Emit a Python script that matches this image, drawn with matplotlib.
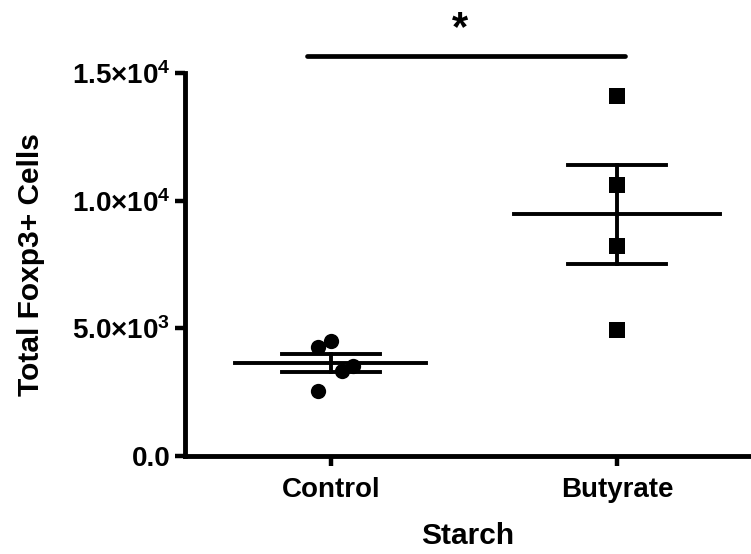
import numpy as np
import matplotlib
matplotlib.use("Agg")
import matplotlib.pyplot as plt

# Data
groups = ["Control", "Butyrate"]
control = [4270, 4505, 3330, 3525, 2546]
butyrate = [14100, 10610, 8220, 4930]
control_jitter = [-0.045, 0.0, 0.038, 0.077, -0.045]
butyrate_jitter = [0.0, 0.0, 0.0, 0.0]
ytick_vals = [0, 5000, 10000, 15000]
ytick_labels = ["0.0", "5.0×10$^{3}$", "1.0×10$^{4}$", "1.5×10$^{4}$"]

plt.rcParams['font.family'] = ['Liberation Sans', 'DejaVu Sans']
plt.rcParams['font.weight'] = 'bold'
plt.rcParams['mathtext.fontset'] = 'custom'
plt.rcParams['mathtext.rm'] = 'Liberation Sans:bold'
plt.rcParams['mathtext.bf'] = 'Liberation Sans:bold'
plt.rcParams['mathtext.it'] = 'Liberation Sans:bold'
plt.rcParams['mathtext.default'] = 'bf'

fig = plt.figure(figsize=(7.51, 5.54), dpi=100)
ax = fig.add_axes([185 / 751, 98 / 554, 566 / 751, 383 / 554])

series = [control, butyrate]
jitters = [control_jitter, butyrate_jitter]
markers = ["o", "s"]
mean_half = [0.334, 0.36]
sem_half = 0.171

for i, vals in enumerate(series):
    vals = np.array(vals, dtype=float)
    xs = i + np.array(jitters[i])
    ax.plot(xs, vals, linestyle="none", marker=markers[i], color="black",
            markersize=11, markeredgewidth=0, zorder=3)
    m = vals.mean()
    sem = vals.std(ddof=1) / np.sqrt(len(vals))
    ax.plot([i - mean_half[i], i + mean_half[i]], [m, m], color="black", lw=2.8, zorder=4)
    ax.plot([i - sem_half, i + sem_half], [m + sem, m + sem], color="black", lw=2.8, zorder=4)
    ax.plot([i - sem_half, i + sem_half], [m - sem, m - sem], color="black", lw=2.8, zorder=4)
    ax.plot([i, i], [m - sem, m + sem], color="black", lw=2.8, zorder=4)

ax.set_xlim(-0.509, 1.468)
ax.set_ylim(0, 15000)
ax.set_xticks(range(len(groups)))
ax.set_xticklabels(groups, fontsize=20, fontweight="bold")
ax.set_yticks(ytick_vals)
ax.set_yticklabels(ytick_labels, fontsize=20, fontweight="bold")

for side in ["top", "right"]:
    ax.spines[side].set_visible(False)
for side in ["left", "bottom"]:
    ax.spines[side].set_linewidth(3.5)
ax.tick_params(axis="both", width=3.2, length=7, color="black")
ax.tick_params(axis="x", pad=8)
ax.tick_params(axis="y", pad=3.5)

ax.set_xlabel("Starch", fontsize=21.5, fontweight="bold", labelpad=14)
ax.set_ylabel("Total Foxp3+ Cells", fontsize=21.5, fontweight="bold", labelpad=19)

# significance bar
ax.plot([-0.083, 1.028], [15667, 15667], color="black", lw=3.4,
        solid_capstyle="round", clip_on=False)
ax.text(0.453, 16300, "*", fontsize=30, fontweight="bold", ha="center",
        va="baseline", clip_on=False)

fig.savefig("out.png", dpi=100)
